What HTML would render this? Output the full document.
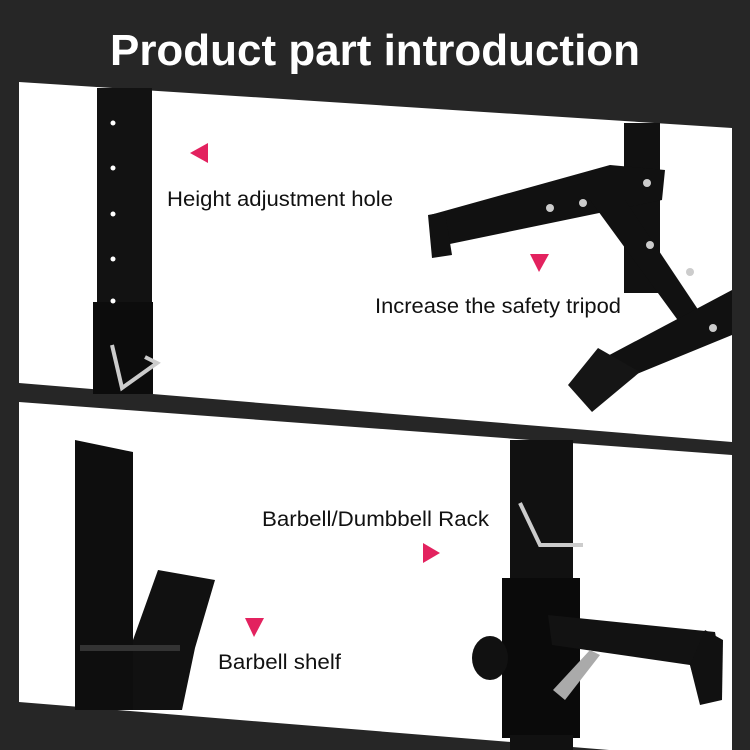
<!DOCTYPE html>
<html><head><meta charset="utf-8"><style>
html,body{margin:0;padding:0;background:#262626;}
svg{display:block}
</style></head><body>
<svg width="750" height="750" viewBox="0 0 750 750" xmlns="http://www.w3.org/2000/svg">
<rect width="750" height="750" fill="#262626"/>
<text x="110" y="65" textLength="530" lengthAdjust="spacingAndGlyphs" font-family="Liberation Sans, sans-serif" font-weight="bold" font-size="44" fill="#fff">Product part introduction</text>
<!-- top panel -->
<polygon points="19,82 732,128 732,442 19,383" fill="#fff"/>
<rect x="97" y="88" width="55" height="217" fill="#121212"/>
<rect x="93" y="302" width="60" height="92" fill="#0c0c0c"/>
<g fill="#fff"><circle cx="113" cy="123" r="2.5"/><circle cx="113" cy="168" r="2.5"/><circle cx="113" cy="214" r="2.5"/><circle cx="113" cy="259" r="2.5"/><circle cx="113" cy="301" r="2.5"/></g>
<polyline points="112,345 122,388 157,363 145,357" fill="none" stroke="#ccc" stroke-width="4"/>
<!-- tripod -->
<rect x="624" y="123" width="36" height="170" fill="#111"/>
<polygon points="430,215 610,165 665,170 662,200 445,245" fill="#111"/>
<polygon points="428,215 445,212 452,255 432,258" fill="#111"/>
<polygon points="590,200 625,200 705,320 685,330" fill="#111"/>
<polygon points="600,360 732,290 732,335 610,385" fill="#111"/>
<polygon points="568,385 598,348 640,372 592,412" fill="#151515"/>
<g fill="#ccc"><circle cx="550" cy="208" r="4"/><circle cx="583" cy="203" r="4"/><circle cx="647" cy="183" r="4"/><circle cx="650" cy="245" r="4"/><circle cx="690" cy="272" r="4"/><circle cx="713" cy="328" r="4"/></g>
<polygon points="190,153 208,143 208,163" fill="#e3225f"/>
<polygon points="530,254 549,254 539,272" fill="#e3225f"/>
<text x="167" y="206" textLength="226" lengthAdjust="spacingAndGlyphs" font-family="Liberation Sans, sans-serif" font-size="21" fill="#111">Height adjustment hole</text>
<text x="375" y="313" textLength="246" lengthAdjust="spacingAndGlyphs" font-family="Liberation Sans, sans-serif" font-size="21" fill="#111">Increase the safety tripod</text>
<!-- bottom panel -->
<polygon points="19,402 732,455 732,760 19,702" fill="#fff"/>
<polygon points="75,440 133,452 133,710 75,710" fill="#0e0e0e"/>
<polygon points="133,640 158,570 215,580 195,648 182,710 133,710" fill="#111"/>
<rect x="80" y="645" width="100" height="6" fill="#333"/>
<rect x="510" y="440" width="63" height="150" fill="#111"/>
<rect x="502" y="578" width="78" height="160" fill="#0a0a0a"/>
<rect x="510" y="735" width="63" height="15" fill="#111"/>
<polyline points="520,503 540,545 583,545" fill="none" stroke="#ccc" stroke-width="4"/>
<polygon points="548,615 715,632 720,660 712,680 700,700 690,665 552,645" fill="#121212"/>
<polygon points="690,665 705,630 723,640 722,700 700,705" fill="#111"/>
<ellipse cx="490" cy="658" rx="18" ry="22" fill="#111"/>
<polygon points="553,690 590,650 600,655 565,700" fill="#aaa"/>
<polygon points="423,543 440,553 423,563" fill="#e3225f"/>
<polygon points="245,618 264,618 254,637" fill="#e3225f"/>
<text x="262" y="526" textLength="227" lengthAdjust="spacingAndGlyphs" font-family="Liberation Sans, sans-serif" font-size="21" fill="#111">Barbell/Dumbbell Rack</text>
<text x="218" y="669" textLength="123" lengthAdjust="spacingAndGlyphs" font-family="Liberation Sans, sans-serif" font-size="21" fill="#111">Barbell shelf</text>
</svg>
</body></html>
